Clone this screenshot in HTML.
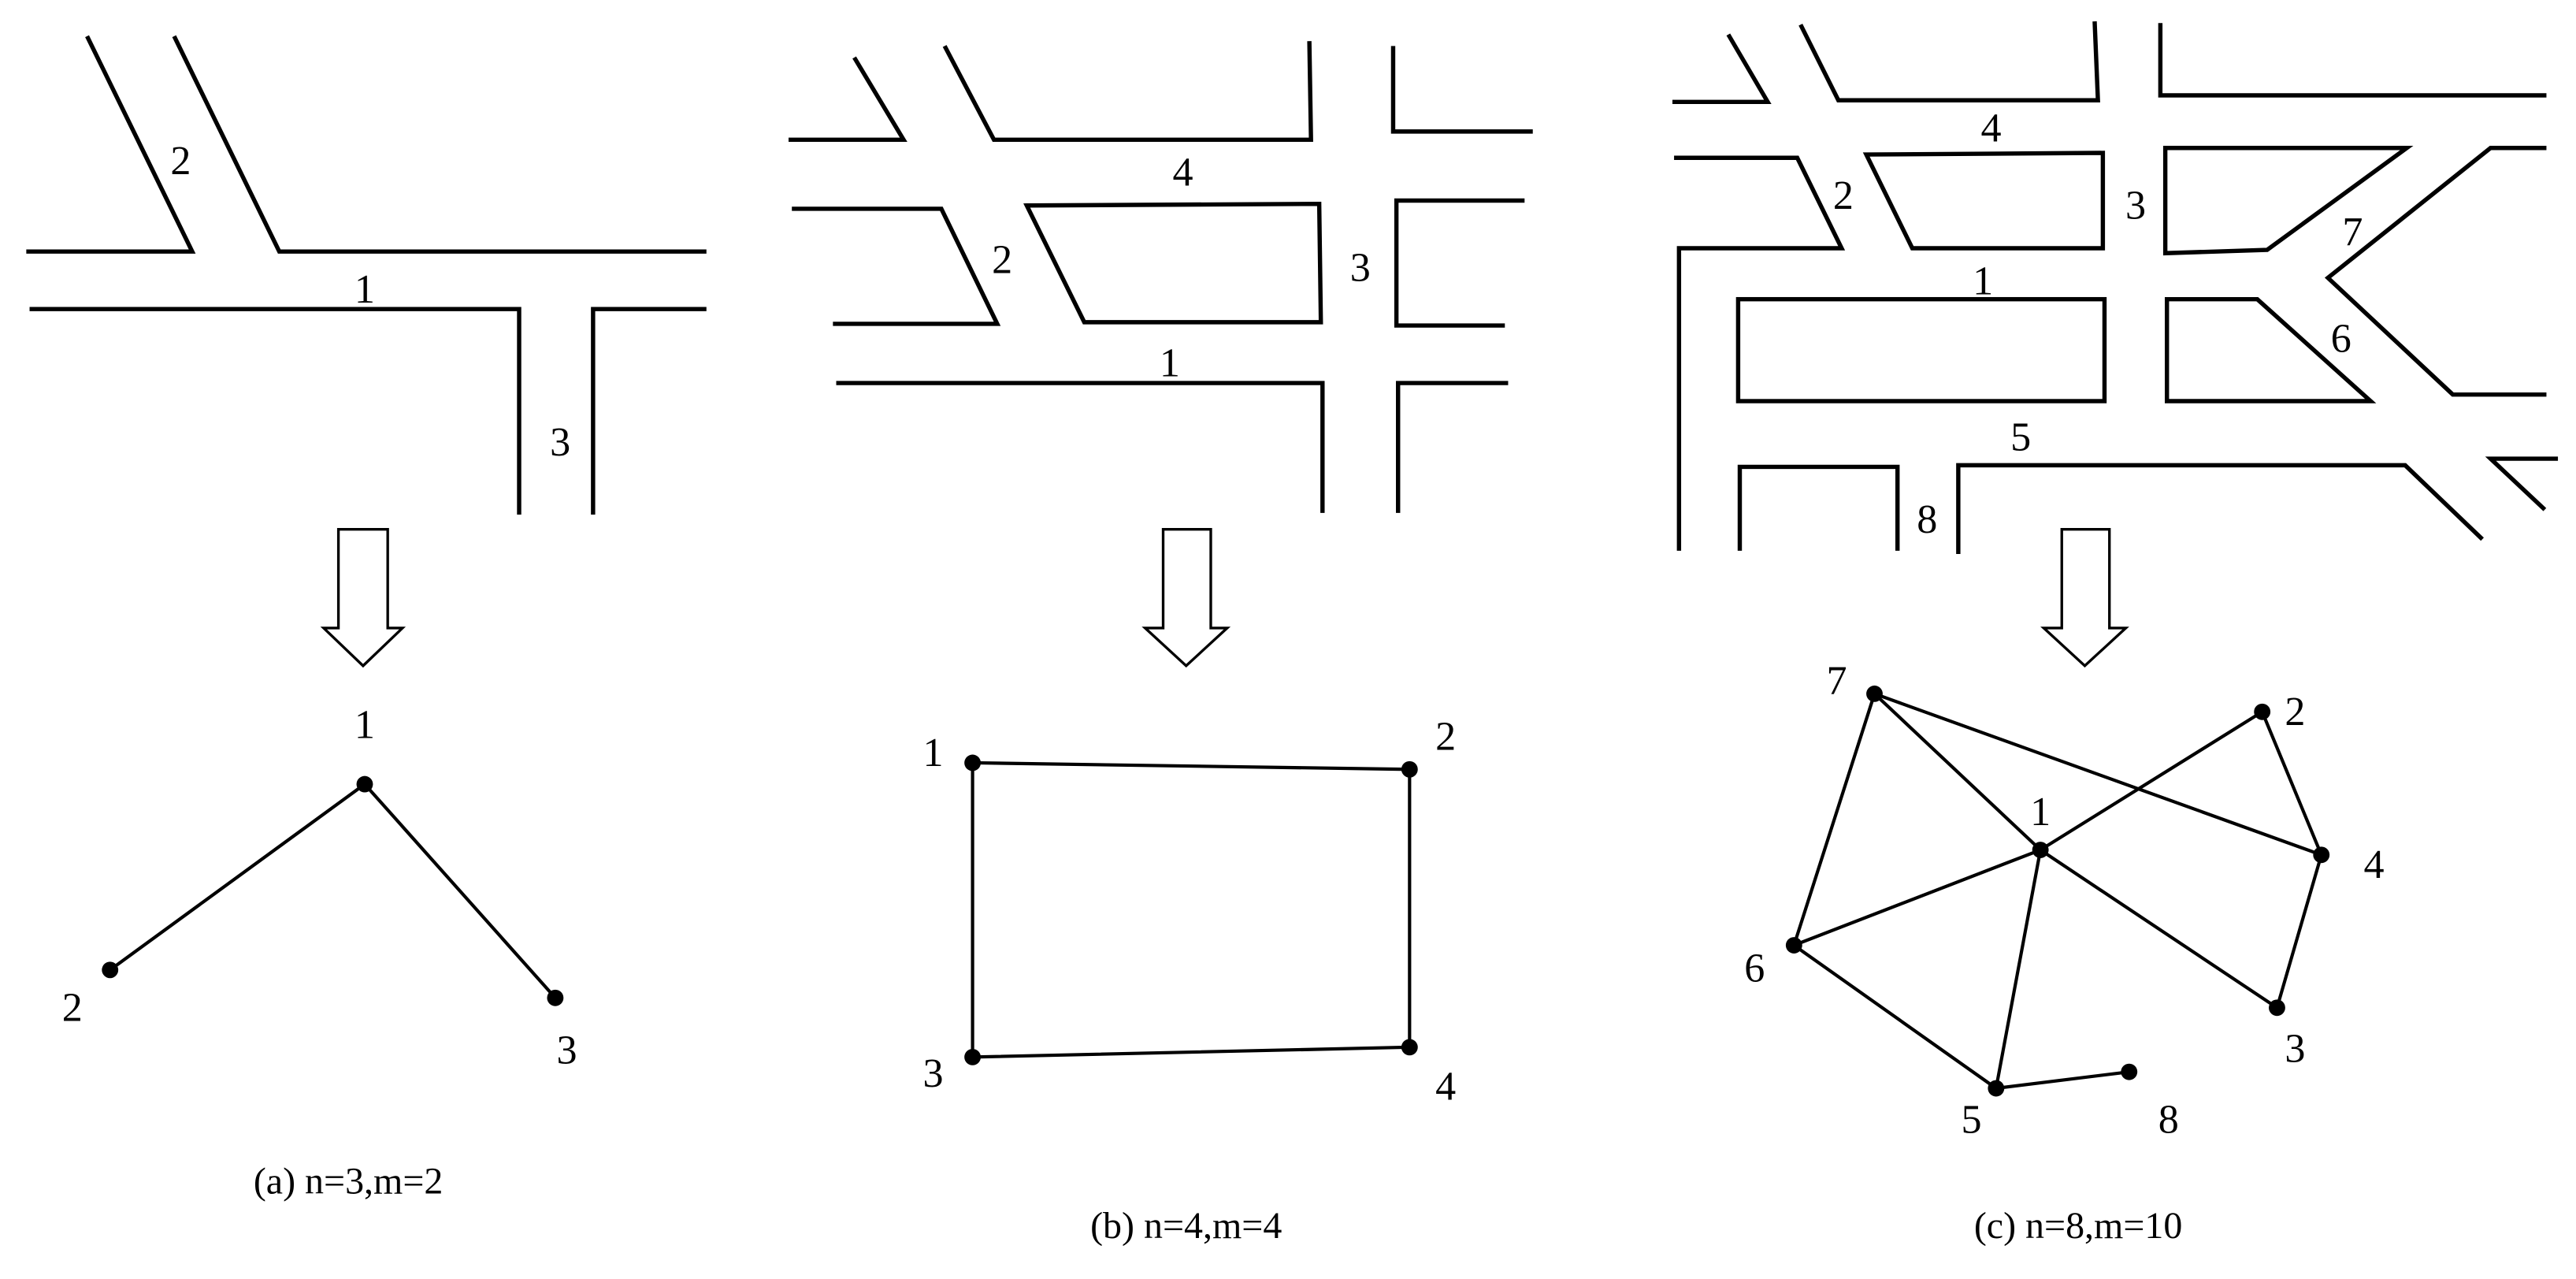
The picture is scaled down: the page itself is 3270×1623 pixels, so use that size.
<!DOCTYPE html>
<html><head><meta charset="utf-8"><style>
html,body{margin:0;padding:0;background:#fff;}
svg{display:block;}
text{font-family:"Liberation Serif",serif;font-size:25px;fill:#000;text-anchor:middle;}
.cap{font-size:23px;}
</style></head><body>
<svg width="3270" height="1623" viewBox="0 0 1568 778" preserveAspectRatio="none" xmlns="http://www.w3.org/2000/svg">
<g fill="none" stroke="#000" stroke-width="2.6" stroke-linejoin="miter">
<!-- panel a -->
<polyline points="53,22 117,153 16,153"/>
<polyline points="106,22 170,153 430,153"/>
<polyline points="18,188 316,188 316,313"/>
<polyline points="430,188 361,188 361,313"/>
<polygon stroke-width="1.6" points="206,322 236,322 236,382 245,382 221,405 197,382 206,382"/>
<!-- panel b -->
<polyline points="520,35 550,85 480,85"/>
<polyline points="575,28 605,85 798,85 797,25"/>
<polyline points="848,28 848,80 933,80"/>
<polyline points="482,127 573,127 607,197 507,197"/>
<polygon points="625,125 803,124 804,196 660,196"/>
<polyline points="928,122 850,122 850,198 916,198"/>
<polyline points="509,233 805,233 805,312"/>
<polyline points="918,233 851,233 851,312"/>
<polygon stroke-width="1.6" points="708,322 737,322 737,382 747,382 722,405 697,382 708,382"/>
<!-- panel c -->
<polyline points="1052,21 1076,62 1018,62"/>
<polyline points="1096,15 1119,61 1277,61 1275,13"/>
<polyline points="1315,14 1315,58 1550,58"/>
<polyline points="1019,96 1094,96 1121,151 1022,151 1022,335"/>
<polygon points="1136,94 1280,93 1280,151 1164,151"/>
<polygon points="1318,90 1465,90 1380,152 1318,154"/>
<polyline points="1550,90 1516,90 1417,169 1493,240 1550,240"/>
<rect x="1058" y="182" width="223" height="62"/>
<polygon points="1319,182 1374,182 1443,244 1319,244"/>
<polyline points="1059,335 1059,284 1155,284 1155,335"/>
<polyline points="1192,337 1192,283 1464,283 1511,328"/>
<polyline points="1557,279 1516,279 1549,310"/>
<polygon stroke-width="1.6" points="1255,322 1284,322 1284,382 1294,382 1269,405 1244,382 1255,382"/>
</g>
<!-- graph edges -->
<g stroke="#000" stroke-width="2" fill="none">
<line x1="222" y1="477" x2="67" y2="590"/>
<line x1="222" y1="477" x2="338" y2="607"/>
<polygon points="592,464 858,468 858,637 592,643"/>
<line x1="1141" y1="422" x2="1242" y2="517"/>
<line x1="1141" y1="422" x2="1413" y2="520"/>
<line x1="1141" y1="422" x2="1092" y2="575"/>
<line x1="1242" y1="517" x2="1377" y2="433"/>
<line x1="1377" y1="433" x2="1413" y2="520"/>
<line x1="1413" y1="520" x2="1386" y2="613"/>
<line x1="1242" y1="517" x2="1386" y2="613"/>
<line x1="1242" y1="517" x2="1092" y2="575"/>
<line x1="1242" y1="517" x2="1215" y2="662"/>
<line x1="1092" y1="575" x2="1215" y2="662"/>
<line x1="1215" y1="662" x2="1296" y2="652"/>
</g>
<g fill="#000">
<circle cx="222" cy="477" r="5"/><circle cx="67" cy="590" r="5"/><circle cx="338" cy="607" r="5"/>
<circle cx="592" cy="464" r="5"/><circle cx="858" cy="468" r="5"/><circle cx="592" cy="643" r="5"/><circle cx="858" cy="637" r="5"/>
<circle cx="1141" cy="422" r="5"/><circle cx="1377" cy="433" r="5"/><circle cx="1242" cy="517" r="5"/><circle cx="1413" cy="520" r="5"/>
<circle cx="1092" cy="575" r="5"/><circle cx="1386" cy="613" r="5"/><circle cx="1215" cy="662" r="5"/><circle cx="1296" cy="652" r="5"/>
</g>
<!-- labels -->
<text x="110" y="106">2</text><text x="222" y="184">1</text><text x="341" y="277">3</text>
<text x="222" y="449">1</text><text x="44" y="621">2</text><text x="345" y="647">3</text>
<text x="720" y="113">4</text><text x="610" y="166">2</text><text x="828" y="171">3</text><text x="712" y="229">1</text>
<text x="568" y="466">1</text><text x="880" y="456">2</text><text x="568" y="661">3</text><text x="880" y="669">4</text>
<text x="1212" y="86">4</text><text x="1122" y="127">2</text><text x="1300" y="133">3</text><text x="1432" y="149">7</text>
<text x="1207" y="179">1</text><text x="1425" y="214">6</text><text x="1230" y="274">5</text><text x="1173" y="324">8</text>
<text x="1118" y="422">7</text><text x="1397" y="441">2</text><text x="1242" y="502">1</text><text x="1445" y="534">4</text>
<text x="1068" y="597">6</text><text x="1397" y="646">3</text><text x="1200" y="689">5</text><text x="1320" y="689">8</text>
<text class="cap" x="212" y="726">(a) n=3,m=2</text>
<text class="cap" x="722" y="753">(b) n=4,m=4</text>
<text class="cap" x="1265" y="753">(c) n=8,m=10</text>
</svg>
</body></html>
